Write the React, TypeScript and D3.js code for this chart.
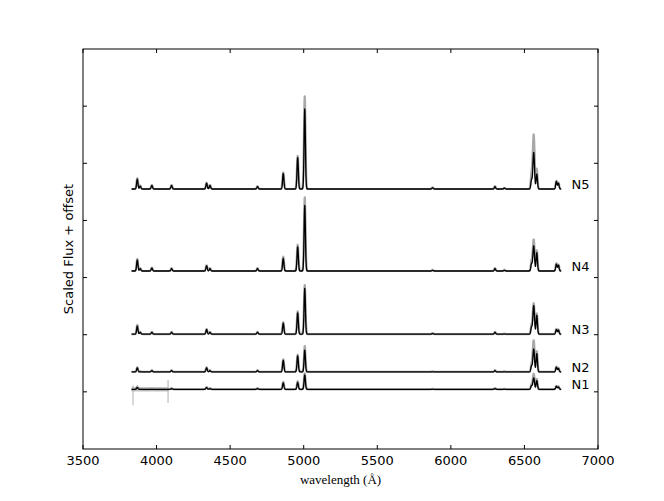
import React from "react";
import * as d3 from "d3";

// ---- data ----
const xTicks = [3500, 4000, 4500, 5000, 5500, 6000, 6500, 7000];
const yTicks = [1, 2, 3, 4, 5, 6];
const seriesNames = ["N1", "N2", "N3", "N4", "N5"];
const offsets = [1.045, 1.35, 2.01, 3.115, 4.55];
const waveStart = 3830;
const waveEnd = 6750;
const labelWave = 6820;

// emission lines (Å) and their widths (sigma, Å)
const lineWaves = [3869, 3889, 3968, 4102, 4340, 4363, 4686, 4861, 4959, 5007, 5876, 6300, 6364, 6548, 6563, 6584, 6717, 6731];
const lineSigmas = [4.5, 4.5, 4.5, 4.5, 4.5, 4.5, 4.5, 4.5, 4.5, 4.5, 4.5, 4.5, 4.5, 4.5, 5.5, 4.5, 4.5, 4.5];

// peak heights (black = median spectrum, grey = upper envelope)
const n1Peaks = [0.03, 0.0, 0.0, 0.01, 0.03, 0.01, 0.01, 0.11, 0.12, 0.25, 0.0, 0.01, 0.0, 0.06, 0.2, 0.15, 0.05, 0.04];
const n1Grey = [0.05, 0.01, 0.01, 0.02, 0.04, 0.02, 0.02, 0.13, 0.14, 0.28, 0.01, 0.02, 0.01, 0.08, 0.27, 0.18, 0.06, 0.05];
const n2Peaks = [0.07, 0.0, 0.02, 0.02, 0.07, 0.02, 0.02, 0.2, 0.28, 0.38, 0.0, 0.02, 0.0, 0.1, 0.4, 0.32, 0.08, 0.06];
const n2Grey = [0.08, 0.01, 0.03, 0.03, 0.08, 0.03, 0.03, 0.22, 0.3, 0.45, 0.01, 0.03, 0.01, 0.12, 0.55, 0.36, 0.09, 0.07];
const n3Peaks = [0.14, 0.03, 0.03, 0.03, 0.08, 0.03, 0.03, 0.19, 0.37, 0.8, 0.01, 0.03, 0.0, 0.12, 0.5, 0.33, 0.08, 0.07];
const n3Grey = [0.16, 0.04, 0.04, 0.04, 0.09, 0.04, 0.04, 0.21, 0.4, 0.86, 0.02, 0.04, 0.01, 0.14, 0.54, 0.36, 0.09, 0.08];
const n4Peaks = [0.19, 0.04, 0.05, 0.04, 0.09, 0.04, 0.04, 0.22, 0.42, 1.15, 0.01, 0.04, 0.01, 0.12, 0.44, 0.32, 0.12, 0.1];
const n4Grey = [0.21, 0.05, 0.06, 0.05, 0.1, 0.05, 0.05, 0.25, 0.46, 1.29, 0.02, 0.05, 0.02, 0.16, 0.55, 0.36, 0.13, 0.11];
const n5Peaks = [0.17, 0.05, 0.06, 0.06, 0.1, 0.06, 0.04, 0.27, 0.55, 1.4, 0.02, 0.04, 0.015, 0.15, 0.64, 0.26, 0.13, 0.1];
const n5Grey = [0.19, 0.06, 0.07, 0.07, 0.11, 0.07, 0.05, 0.29, 0.58, 1.62, 0.03, 0.05, 0.02, 0.25, 0.95, 0.35, 0.14, 0.11];

// N1 noisy blue end: band [from, to, half-height] and spikes [wave, up, down]
const n1NoiseBand = [3830, 4080, 0.04];
const n1Spikes = [
  [3840, 0.07, -0.28],
  [4078, 0.16, -0.24],
];

const blackPeaks = [n1Peaks, n2Peaks, n3Peaks, n4Peaks, n5Peaks];
const greyPeaks = [n1Grey, n2Grey, n3Grey, n4Grey, n5Grey];

// ---- layout ----
const W = 664;
const H = 501;
const left = 83;
const right = 598;
const top = 49;
const bottom = 449;

const x = d3.scaleLinear().domain([3500, 7000]).range([left, right]);
const y = d3.scaleLinear().domain([0, 7]).range([bottom, top]);

const waves = d3.range(waveStart, waveEnd + 0.5, 1);

function profile(peaks: number[], sigScale: number) {
  return waves.map((w) => {
    let f = 0;
    for (let i = 0; i < lineWaves.length; i++) {
      const s = lineSigmas[i] * sigScale;
      const d = (w - lineWaves[i]) / s;
      if (Math.abs(d) < 6) f += peaks[i] * Math.exp(-0.5 * d * d);
    }
    return [w, f] as [number, number];
  });
}

export default function App() {
  const font = "'DejaVu Sans', sans-serif";
  return (
    <svg
      width={W}
      height={H}
      style={{ position: "absolute", left: 0, top: 0, background: "#fff" }}
    >
      <rect x={0} y={0} width={W} height={H} fill="#fff" />
      {/* N1 noise */}
      <path
        d={
          d3
            .area<number>()
            .x((w) => x(w))
            .y0(() => y(offsets[0] - n1NoiseBand[2]))
            .y1(() => y(offsets[0] + n1NoiseBand[2]))(
            d3.range(n1NoiseBand[0], n1NoiseBand[1] + 0.5, 10)
          ) || ""
        }
        fill="#c4c4c4"
      />
      {n1Spikes.map((s, i) => (
        <line
          key={i}
          x1={x(s[0])}
          x2={x(s[0])}
          y1={y(offsets[0] + s[1])}
          y2={y(offsets[0] + s[2])}
          stroke="#b0b0b0"
          strokeWidth={1}
        />
      ))}
      {seriesNames.map((name, si) => {
        const off = offsets[si];
        const line = d3
          .line<[number, number]>()
          .x((d) => x(d[0]))
          .y((d) => y(d[1] + off));
        const g = profile(greyPeaks[si], 1.15);
        const b = profile(blackPeaks[si], 1);
        return (
          <g key={name}>
            <path d={line(g) || ""} fill="none" stroke="#a8a8a8" strokeWidth={2.2} strokeLinejoin="round" />
            <path d={line(b) || ""} fill="none" stroke="#000" strokeWidth={1.3} strokeLinejoin="round" />
            <text
              x={x(labelWave)}
              y={y(off + 0.08)}
              dy="0.35em"
              fontFamily={font}
              fontSize={13}
              fill="#000"
            >
              {name}
            </text>
          </g>
        );
      })}
      {/* axes frame */}
      <rect x={left} y={top} width={right - left} height={bottom - top} fill="none" stroke="#000" strokeWidth={1} />
      {xTicks.map((t) => (
        <g key={"x" + t}>
          <line x1={x(t)} x2={x(t)} y1={bottom} y2={bottom - 4} stroke="#000" />
          <line x1={x(t)} x2={x(t)} y1={top} y2={top + 4} stroke="#000" />
          <text x={x(t)} y={bottom + 16} textAnchor="middle" fontFamily={font} fontSize={13} fill="#000">
            {t}
          </text>
        </g>
      ))}
      {yTicks.map((t) => (
        <g key={"y" + t}>
          <line x1={left} x2={left + 4} y1={y(t)} y2={y(t)} stroke="#000" />
          <line x1={right} x2={right - 4} y1={y(t)} y2={y(t)} stroke="#000" />
        </g>
      ))}
      <text
        x={(left + right) / 2}
        y={484}
        textAnchor="middle"
        fontFamily="'Liberation Serif', 'DejaVu Serif', serif"
        fontSize={13}
        fill="#000"
      >
        wavelength (Å)
      </text>
      <text
        transform={`translate(73, ${(top + bottom) / 2}) rotate(-90)`}
        textAnchor="middle"
        fontFamily={font}
        fontSize={13}
        fill="#000"
      >
        Scaled Flux + offset
      </text>
    </svg>
  );
}
